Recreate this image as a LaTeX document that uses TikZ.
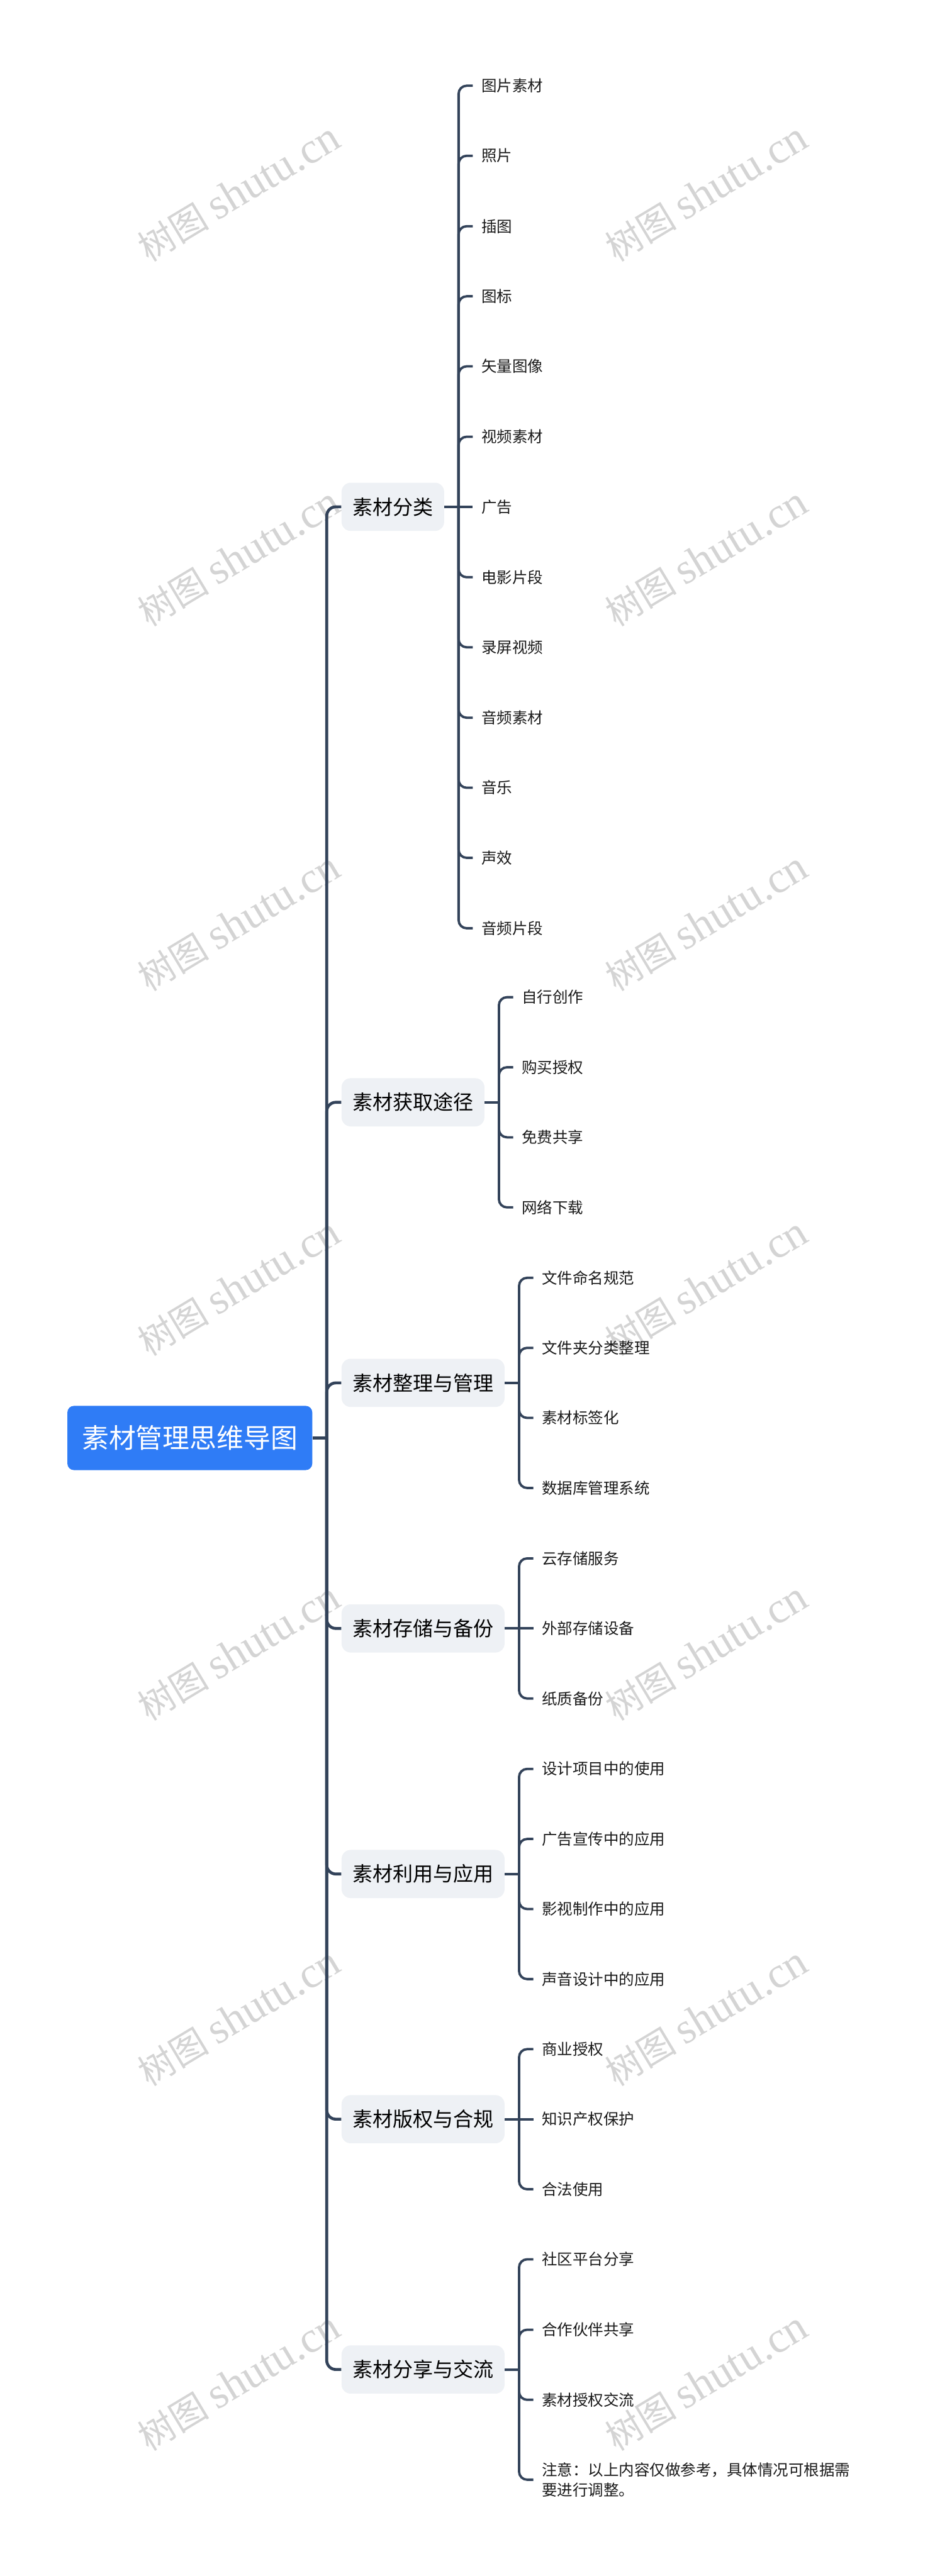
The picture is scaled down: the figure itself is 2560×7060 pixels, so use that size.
\documentclass[tikz,border=0pt]{standalone}
\usepackage{fontspec}
\setmainfont{Noto Sans CJK SC}
\newfontfamily\wmlatin{Liberation Serif}
\usetikzlibrary{calc}
\definecolor{rootblue}{HTML}{2F7CF6}
\definecolor{topicgray}{HTML}{EEF1F5}
\definecolor{linecol}{HTML}{33435A}
\definecolor{wmgray}{HTML}{D4D4D4}
\definecolor{leaftext}{HTML}{1A1A1A}

\tikzset{
  rootbox/.style={fill=rootblue, text=white, rounded corners=0.18cm,
    font=\fontsize{21}{25}\selectfont, minimum height=1.76cm, inner xsep=0.4cm},
  topicbox/.style={fill=topicgray, text=black, rounded corners=0.25cm, anchor=west,
    font=\fontsize{15.7}{19}\selectfont, minimum height=1.32cm, inner xsep=0.3cm},
  leaf/.style={text=leaftext, anchor=west, inner xsep=0.23cm, inner ysep=0pt,
    font=\fontsize{12}{15.6}\selectfont},
  trunk/.style={draw=linecol, line width=0.08cm},
  twig/.style={draw=linecol, line width=0.065cm},
  wmark/.style={text=wmgray, rotate=31, inner sep=0pt,
    font=\fontsize{28}{32}\selectfont}
}

\begin{document}
\begin{tikzpicture}[x=0.01cm, y=-0.01cm]

  \fill[white] (0,0) rectangle (2560,7060);
  \useasboundingbox (0,0) rectangle (2560,7060);

  % watermark
  \foreach \wx in {655,1935}
    \foreach \wy in {527,1527,...,6527}
      \node[wmark] (wm-\wx-\wy) at (\wx,\wy) {树图 {\wmlatin\fontsize{34}{40}\selectfont shutu.cn}};

  % root and main topics
  \node[rootbox] (root) at (520,3941) {素材管理思维导图};
  \coordinate (hub) at (895,3941);

  \node[topicbox] (t1) at (935,1389) {素材分类};
  \node[topicbox] (t2) at (935,3021) {素材获取途径};
  \node[topicbox] (t3) at (935,3790) {素材整理与管理};
  \node[topicbox] (t4) at (935,4463) {素材存储与备份};
  \node[topicbox] (t5) at (935,5136) {素材利用与应用};
  \node[topicbox] (t6) at (935,5808) {素材版权与合规};
  \node[topicbox] (t7) at (935,6494) {素材分享与交流};

  \draw[trunk, line width=0.1cm] (root.east) -- (hub);
  \foreach \t in {t1,t2,t3,t4,t5,t6,t7}
    \draw[trunk, rounded corners=0.25cm] (hub) |- (\t.west);

  % junctions
  \coordinate (j1) at ($(t1.east)+(39,0)$);
  \coordinate (j2) at ($(t2.east)+(39,0)$);
  \coordinate (j3) at ($(t3.east)+(39,0)$);
  \coordinate (j4) at ($(t4.east)+(39,0)$);
  \coordinate (j5) at ($(t5.east)+(39,0)$);
  \coordinate (j6) at ($(t6.east)+(39,0)$);
  \coordinate (j7) at ($(t7.east)+(39,0)$);

  % 素材分类
  \node[leaf] (a1) at (1295,235) {图片素材};
  \node[leaf] (a2) at (1295,427) {照片};
  \node[leaf] (a3) at (1295,620) {插图};
  \node[leaf] (a4) at (1295,812) {图标};
  \node[leaf] (a5) at (1295,1004) {矢量图像};
  \node[leaf] (a6) at (1295,1197) {视频素材};
  \node[leaf] (a7) at (1295,1389) {广告};
  \node[leaf] (a8) at (1295,1582) {电影片段};
  \node[leaf] (a9) at (1295,1774) {录屏视频};
  \node[leaf] (a10) at (1295,1967) {音频素材};
  \node[leaf] (a11) at (1295,2159) {音乐};
  \node[leaf] (a12) at (1295,2351) {声效};
  \node[leaf] (a13) at (1295,2544) {音频片段};

  % 素材获取途径
  \node[leaf] (b1) at (1406,2733) {自行创作};
  \node[leaf] (b2) at (1406,2925) {购买授权};
  \node[leaf] (b3) at (1406,3117) {免费共享};
  \node[leaf] (b4) at (1406,3309) {网络下载};

  % 素材整理与管理
  \node[leaf] (c1) at (1461,3502) {文件命名规范};
  \node[leaf] (c2) at (1461,3694) {文件夹分类整理};
  \node[leaf] (c3) at (1461,3886) {素材标签化};
  \node[leaf] (c4) at (1461,4078) {数据库管理系统};

  % 素材存储与备份
  \node[leaf] (d1) at (1461,4271) {云存储服务};
  \node[leaf] (d2) at (1461,4463) {外部存储设备};
  \node[leaf] (d3) at (1461,4655) {纸质备份};

  % 素材利用与应用
  \node[leaf] (e1) at (1461,4848) {设计项目中的使用};
  \node[leaf] (e2) at (1461,5040) {广告宣传中的应用};
  \node[leaf] (e3) at (1461,5232) {影视制作中的应用};
  \node[leaf] (e4) at (1461,5424) {声音设计中的应用};

  % 素材版权与合规
  \node[leaf] (f1) at (1461,5616) {商业授权};
  \node[leaf] (f2) at (1461,5808) {知识产权保护};
  \node[leaf] (f3) at (1461,6000) {合法使用};

  % 素材分享与交流
  \node[leaf] (g1) at (1461,6192) {社区平台分享};
  \node[leaf] (g2) at (1461,6385) {合作伙伴共享};
  \node[leaf] (g3) at (1461,6577) {素材授权交流};
  \node[leaf, align=left] (g4) at (1461,6796) {注意：以上内容仅做参考，具体情况可根据需\\要进行调整。};

  % branch connectors
  \foreach \p/\j in {t1/j1,t2/j2,t3/j3,t4/j4,t5/j5,t6/j6,t7/j7}
    \draw[twig] (\p.east) -- (\j);
  \foreach \l in {a1,a2,a3,a4,a5,a6,a8,a9,a10,a11,a12,a13}
    \draw[twig, rounded corners=0.22cm] (j1) |- (\l.west);
  \draw[twig] (j1) -- (a7.west);
  \foreach \l in {b1,b2,b3,b4}
    \draw[twig, rounded corners=0.22cm] (j2) |- (\l.west);
  \foreach \l in {c1,c2,c3,c4}
    \draw[twig, rounded corners=0.22cm] (j3) |- (\l.west);
  \foreach \l in {d1,d3}
    \draw[twig, rounded corners=0.22cm] (j4) |- (\l.west);
  \draw[twig] (j4) -- (d2.west);
  \foreach \l in {e1,e2,e3,e4}
    \draw[twig, rounded corners=0.22cm] (j5) |- (\l.west);
  \foreach \l in {f1,f3}
    \draw[twig, rounded corners=0.22cm] (j6) |- (\l.west);
  \draw[twig] (j6) -- (f2.west);
  \foreach \l in {g1,g2,g3,g4}
    \draw[twig, rounded corners=0.22cm] (j7) |- (\l.west);

\end{tikzpicture}
\end{document}
